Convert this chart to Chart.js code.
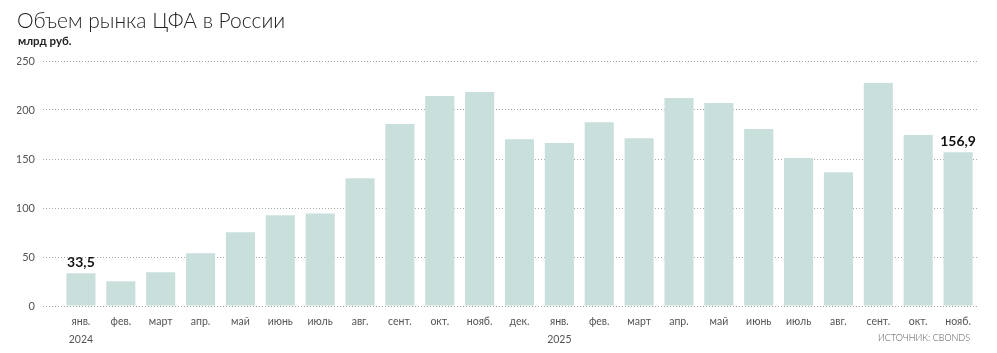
<!DOCTYPE html>
<html>
<head>
<meta charset="utf-8">
<script src="https://cdn.jsdelivr.net/npm/chart.js@4"></script>
<style>
  body { margin: 0; background: #fff; }
  #wrap { position: relative; width: 997px; height: 353px; }
  #title { position: absolute; left: 17px; top: 7px; font: 300 21px Lato, "Open Sans", sans-serif; color: #222; }
  #unit { position: absolute; left: 18px; top: 34px; font: 700 11.5px Lato, "Open Sans", sans-serif; color: #222; }
  #source { position: absolute; right: 27px; top: 332px; font: 300 9px Lato, "Open Sans", sans-serif; color: #555; }
</style>
</head>
<body>
<div id="wrap">
  <canvas id="cfaChart" width="997" height="353"></canvas>
  <div id="title">Объем рынка ЦФА в России</div>
  <div id="unit">млрд руб.</div>
  <div id="source">ИСТОЧНИК: CBONDS</div>
</div>
<script>
// months (year shown under first month of each year)
const months = [
  "янв.", "фев.", "март", "апр.", "май", "июнь", "июль", "авг.", "сент.", "окт.", "нояб.", "дек.",
  "янв.", "фев.", "март", "апр.", "май", "июнь", "июль", "авг.", "сент.", "окт.", "нояб."
];
const years = ["2024", "", "", "", "", "", "", "", "", "", "", "", "2025", "", "", "", "", "", "", "", "", "", ""];

// объем, млрд руб.
const volume = [
  33.5, 25.2, 34.4, 53.8, 75.3, 92.6, 94.4, 130.4, 185.7, 214.3, 218.4, 170.2,
  166.2, 187.6, 171.2, 212.2, 207.1, 180.6, 151, 136.6, 227.6, 174.4, 156.9
];

// which bars get a value label
const labelled = [0, 22];

const yTicks = [0, 50, 100, 150, 200, 250];

const labels = months.map((m, i) => (years[i] ? [m, years[i]] : m));

// value labels over chosen bars
const valueLabels = {
  id: "valueLabels",
  afterDatasetsDraw(chart) {
    const ctx = chart.ctx;
    const meta = chart.getDatasetMeta(0);
    ctx.save();
    ctx.font = "700 14px Lato, 'Open Sans', sans-serif";
    ctx.fillStyle = "#111";
    ctx.textAlign = "center";
    ctx.textBaseline = "bottom";
    labelled.forEach((i) => {
      const bar = meta.data[i];
      const txt = volume[i].toFixed(1).replace(".", ",");
      ctx.fillText(txt, bar.x, bar.y - 4);
    });
    ctx.restore();
  },
};

const ctx = document.getElementById("cfaChart").getContext("2d");
const chart = new Chart(ctx, {
  type: "bar",
  data: {
    labels: labels,
    datasets: [
      {
        data: volume,
        backgroundColor: "#c8dfdc",
        categoryPercentage: 1,
        barPercentage: 0.73,
      },
    ],
  },
  options: {
    responsive: false,
    animation: false,
    layout: { padding: { left: 17, right: 19, top: 61, bottom: 0 } },
    plugins: {
      legend: { display: false },
      tooltip: { enabled: false },
    },
    scales: {
      x: {
        grid: { display: false, drawTicks: false },
        border: { display: false },
        ticks: {
          autoSkip: false,
          maxRotation: 0,
          padding: 7,
          color: "#555",
          font: { family: "Lato, 'Open Sans', sans-serif", size: 10.5, lineHeight: 1.7 },
        },
        afterFit(scale) {
          scale.height = 47;
        },
      },
      y: {
        min: 0,
        max: 250,
        afterBuildTicks(scale) {
          scale.ticks = yTicks.map((v) => ({ value: v }));
        },
        afterFit(scale) {
          scale.width = 44;
        },
        grid: {
          color: "#a8a8a8",
          lineWidth: 1,
          tickLength: 18,
          tickColor: "#a8a8a8",
          tickWidth: 1,
          tickBorderDash: [1, 2],
        },
        // dotted grid lines
        border: { display: false, dash: [1, 2] },
        ticks: {
          padding: 8,
          color: "#555",
          font: { family: "Lato, 'Open Sans', sans-serif", size: 11 },
        },
      },
    },
  },
  plugins: [valueLabels],
});
</script>
</body>
</html>
